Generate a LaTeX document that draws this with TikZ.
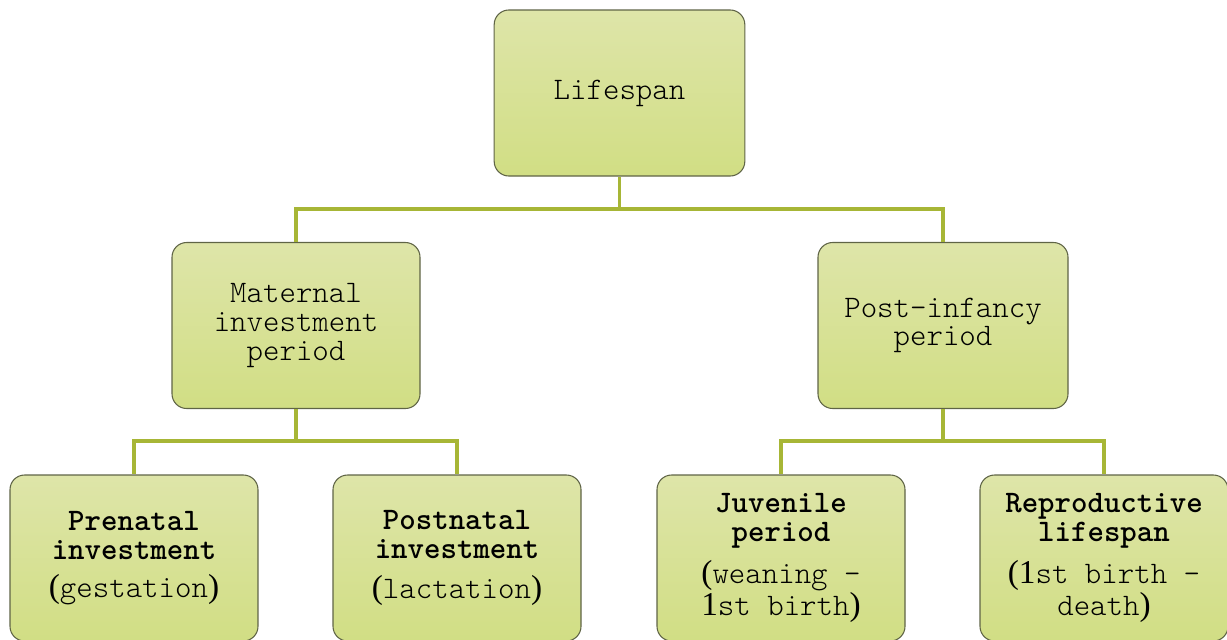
\documentclass[tikz,border=0pt]{standalone}
\usepackage{fontspec}
\setmonofont{lmmonolt10-regular.otf}[BoldFont=lmmonolt10-bold.otf]
\newfontfamily\parenfont{Liberation Serif}
\newcommand{\lpar}{{\parenfont\fontsize{25}{25}\selectfont(}}
\newcommand{\rpar}{{\parenfont\fontsize{25}{25}\selectfont)}}
\newcommand{\oneser}{{\parenfont\fontsize{25}{25}\selectfont 1}}
\definecolor{boxtop}{HTML}{DEE5A9}
\definecolor{boxbot}{HTML}{D1DE84}
\definecolor{boxedge}{HTML}{5F6446}
\definecolor{connc}{HTML}{A7B636}
\begin{document}
\begin{tikzpicture}[x=0.75pt,y=-0.75pt,
  box/.style={rectangle, rounded corners=11pt, draw=boxedge, line width=0.8pt,
    top color=boxtop, bottom color=boxbot,
    minimum width=186pt, minimum height=124.5pt, inner sep=0pt,
    align=center, font=\ttfamily\fontsize{23.5}{21.5}\selectfont},
  conn/.style={draw=connc, line width=2.4pt}]
\useasboundingbox (0,0) rectangle (1227,639);
\node[box, minimum width=188pt] (life) at (619.5,93) {Lifespan};
\node[box] (mat) at (296,325.5) {Maternal\\investment\\period};
\node[box, minimum width=187.5pt] (post) at (943,325.5) {Post-infancy\\period};
\node[box] (pre) at (134,558) {\textbf{Prenatal}\\\textbf{investment}\\[7pt] \lpar gestation\rpar};
\node[box] (postn) at (457,558) {\textbf{Postnatal}\\\textbf{investment}\\[9pt] \lpar lactation\rpar};
\node[box] (juv) at (781,558) {\textbf{Juvenile}\\\textbf{period}\\[8pt] \lpar weaning –\\\oneser st birth\rpar};
\node[box] (rep) at (1104,558) {\textbf{Reproductive}\\\textbf{lifespan}\\[8pt] \lpar\oneser st birth –\\death\rpar};
\coordinate (j1) at (619.5,209);
\coordinate (j2) at (296,441);
\coordinate (j3) at (943,441);
\draw[conn] (life.south) -- (j1);
\draw[conn] (j1) -| (mat.north);
\draw[conn] (j1) -| (post.north);
\draw[conn] (mat.south) -- (j2);
\draw[conn] (j2) -| (pre.north);
\draw[conn] (j2) -| (postn.north);
\draw[conn] (post.south) -- (j3);
\draw[conn] (j3) -| (juv.north);
\draw[conn] (j3) -| (rep.north);
\end{tikzpicture}
\end{document}
